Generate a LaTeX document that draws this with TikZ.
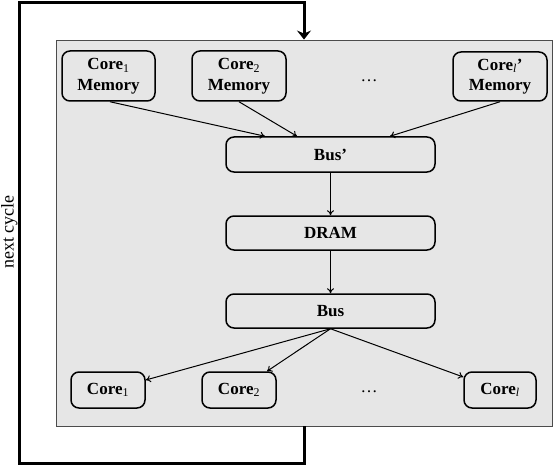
\documentclass[tikz,border=0pt]{standalone}
\usepackage{fontspec}
\setmainfont{Liberation Serif}
\usetikzlibrary{arrows.meta}
\definecolor{panelgray}{HTML}{E6E6E6}
\begin{document}
\begin{tikzpicture}[x=1pt,y=-1pt,
  box/.style={draw=black, line width=1.5pt, rounded corners=8pt, fill=panelgray,
    inner sep=0pt, align=center, font=\fontsize{17}{20.5}\selectfont\bfseries},
  panelbox/.style={draw=black!70, line width=0.9pt, fill=panelgray, inner sep=0pt},
  conn/.style={draw=black, line width=1pt, -{To[length=5pt,width=7pt]}},
  loop/.style={draw=black, line width=3pt},
  dotsl/.style={font=\fontsize{17}{20}\selectfont, inner sep=0pt}
]
\useasboundingbox (0,0) rectangle (553,465);
\node[panelbox, minimum width=496pt, minimum height=386pt] (panel) at (304,233) {};

\node[box, minimum width=93pt, minimum height=50pt] (m1) at (108.5,76) {Core\textsubscript{\mdseries 1}\\Memory};
\node[box, minimum width=94pt, minimum height=50pt] (m2) at (239,76) {Core\textsubscript{\mdseries 2}\\Memory};
\node[box, minimum width=94pt, minimum height=49pt] (ml) at (500,76.5) {Core\textsubscript{\mdseries\itshape l}’\\Memory};
\node[dotsl] (d1) at (369,80.5) {\dots};

\node[box, minimum width=209pt, minimum height=35pt] (busp) at (330.5,154.5) {Bus’};
\node[box, minimum width=209pt, minimum height=34pt] (dram) at (330.5,233) {DRAM};
\node[box, minimum width=209pt, minimum height=34pt] (bus) at (330.5,311) {Bus};

\node[box, minimum width=74pt, minimum height=36pt] (c1) at (108,390) {Core\textsubscript{\mdseries 1}};
\node[box, minimum width=74pt, minimum height=36pt] (c2) at (239,390) {Core\textsubscript{\mdseries 2}};
\node[box, minimum width=72pt, minimum height=36pt] (cl) at (500,390) {Core\textsubscript{\mdseries\itshape l}};
\node[dotsl] (d2) at (369,391.5) {\dots};

\draw[conn] ([xshift=1.5pt]m1.south) -- ([xshift=-65.5pt]busp.north);
\draw[conn] (m2.south) -- ([xshift=-33.5pt]busp.north);
\draw[conn] (ml.south) -- ([xshift=59.5pt]busp.north);
\draw[conn] (busp) -- (dram);
\draw[conn] (dram) -- (bus);
\draw[conn] (bus.south) -- ([yshift=10pt]c1.east);
\draw[conn] (bus.south) -- ([xshift=28pt]c2.north);
\draw[conn] (bus.south) -- ([yshift=13pt]cl.west);

\coordinate (lb) at (304,463);
\coordinate (lbl) at (19,463);
\coordinate (ltl) at (19,3);
\coordinate (lt) at (304,3);
\draw[loop] (panel.south) -- (lb) -- (lbl) -- (ltl) -- (lt) -- ([yshift=5pt]panel.north);
\draw[loop, -{Stealth[length=9pt,width=14pt,inset=3pt]}] (lt) -- (panel.north);
\node[rotate=90, anchor=base, font=\fontsize{18}{21}\selectfont, inner sep=0pt] (nc) at (13.5,232) {next cycle};
\end{tikzpicture}
\end{document}
